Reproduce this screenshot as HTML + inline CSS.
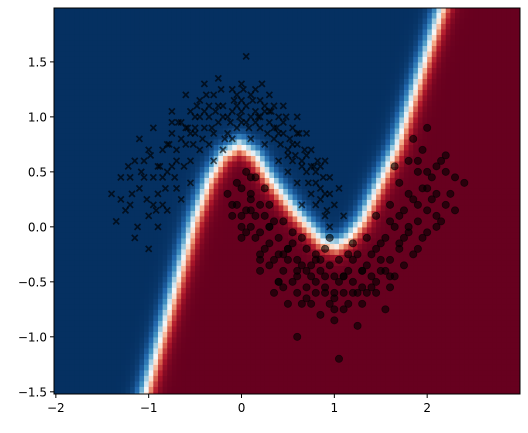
<!DOCTYPE html>
<html><head><meta charset="utf-8"><style>
body{margin:0;background:#fff}
svg text{font-family:"DejaVu Sans","Liberation Sans",sans-serif;font-size:12px;fill:#000}
</style></head><body>
<svg id="chart" width="528" height="428" xmlns="http://www.w3.org/2000/svg">
<defs><clipPath id="clip"><rect x="54" y="8" width="466" height="386"/></clipPath></defs>
<g id="heat" clip-path="url(#clip)"></g>
<g id="pts" clip-path="url(#clip)"></g>
<rect x="54" y="8" width="466" height="386" fill="none" stroke="#000" stroke-width="1"/>
<g id="axes"></g>
</svg>
<script>
const boundaryX=[-1.1,-0.61,-0.51,-0.35,-0.2,-0.02,0.15,0.3,0.59,0.87,1.02,1.15,1.3,1.67,2.2];
const boundaryY=[-1.7,-0.24,0.06,0.43,0.65,0.75,0.65,0.45,0.13,-0.13,-0.17,-0.1,0.06,0.73,2.1];
const xTicks=[-2,-1,0,1,2];
const yTicks=[-1.5,-1.0,-0.5,0.0,0.5,1.0,1.5];
const upperX=[-1.2,-1.1,-1.0,-0.95,-1.05,-0.9,-0.85,-0.8,-0.75,-0.7,-0.65,-0.6,-0.55,-0.5,-0.45,-0.4,-0.35,-0.3,-0.25,-0.2,-0.15,-0.1,-0.05,0.0,0.05,0.1,0.15,0.2,0.25,0.3,0.35,0.4,0.45,0.5,0.55,0.6,0.65,0.7,0.75,0.8,0.85,0.9,0.95,1.0,0.9,0.8,-1.3,-1.25,-1.15,-1.0,-0.9,-0.85,-0.7,-0.65,-0.75,-0.55,-0.45,-0.35,-0.25,0.0,0.05,0.3,0.45,0.6,0.7,0.75,0.6,0.5,0.4,-0.1,0.1,-1.1,-0.6,-0.4,0.2,-0.95,-1.4,-1.2,-0.8,-1.0,-0.5,0.35,0.55,0.85,1.05,-0.3,-0.2,0.25,0.65,0.9,-0.75,-0.55,0.0,-0.05,0.15,0.95,1.1,
-1.35,-1.3,-1.22,-1.18,-1.12,-1.08,-1.02,-0.98,-0.92,-0.88,-0.82,-0.78,-0.72,-0.68,-0.62,-0.58,-0.52,-0.48,-0.42,-0.38,-0.32,-0.28,-0.22,-0.18,-0.12,-0.08,-0.02,0.02,0.08,0.12,0.18,0.22,0.28,0.32,0.38,0.42,0.48,0.52,0.58,0.62,0.68,0.72,0.78,0.82,0.88,0.92,
-1.15,-1.05,-0.95,-0.85,-0.75,-0.65,-0.55,-0.45,-0.35,-0.25,-0.15,-0.05,0.05,0.15,0.25,0.35,0.45,0.55,0.65,0.75,0.85,0.95,
-0.9,-0.7,-0.5,-0.3,-0.1,0.1,0.3,0.5,0.7,-0.8,-0.6,-0.4,-0.2,0.0,0.2,0.4,0.6,0.8];
const upperY=[0.2,0.35,0.1,0.45,0.6,0.3,0.7,0.5,0.85,0.6,0.95,0.75,1.05,0.85,1.15,0.9,1.0,1.2,0.95,1.1,0.85,1.05,1.2,0.95,1.1,1.0,1.25,0.9,1.05,0.95,0.8,1.0,0.85,0.7,0.9,0.75,0.6,0.5,0.7,0.4,0.55,0.3,0.45,0.2,0.1,0.2,0.45,0.15,-0.1,-0.2,0.0,0.2,0.35,0.25,1.05,0.6,0.7,0.75,1.35,1.3,1.55,1.2,1.1,1.0,0.85,0.3,0.4,0.5,0.6,0.8,0.8,0.8,1.2,1.3,1.15,0.9,0.3,0.45,0.15,0.7,1.0,1.1,0.6,0.35,0.35,0.6,0.7,0.75,0.2,0.6,0.95,0.4,1.05,0.9,0.95,0.0,0.1,
0.05,0.25,0.55,0.3,0.0,0.5,0.25,0.65,0.15,0.55,0.35,0.75,0.45,0.95,0.55,0.9,0.75,1.1,0.8,1.2,0.9,1.05,1.25,0.8,0.95,1.15,1.0,1.25,0.9,1.15,1.0,1.3,0.85,1.05,0.9,0.75,1.0,0.8,0.65,0.85,0.7,0.4,0.55,0.6,0.45,0.15,
0.6,0.45,0.2,0.45,0.55,0.8,0.85,1.0,1.1,1.1,1.0,1.1,0.95,1.05,1.1,0.9,0.95,0.75,0.55,0.55,0.25,0.3,
0.55,0.7,0.9,0.85,1.25,1.2,1.05,0.65,0.65,0.75,0.9,1.05,1.0,1.15,1.0,0.85,0.85,0.5];
const lowerX=[0.0,0.05,-0.05,0.1,0.1,0.15,0.2,0.25,0.3,0.35,0.4,0.45,0.5,0.55,0.6,0.65,0.7,0.75,0.8,0.85,0.9,0.95,1.0,1.05,1.1,1.15,1.2,1.25,1.3,1.35,1.4,1.45,1.5,1.55,1.6,1.65,1.7,1.75,1.8,1.85,1.9,1.95,2.0,2.05,1.9,1.8,1.95,2.1,2.2,2.3,2.4,2.15,1.7,1.6,1.45,1.35,1.2,0.9,0.8,0.6,0.5,0.4,0.3,0.2,0.1,0.0,-0.1,-0.15,0.05,0.15,0.25,0.3,0.45,0.55,0.7,0.85,1.0,1.1,1.3,1.45,1.6,1.75,1.9,2.0,2.1,1.0,0.75,0.65,0.35,0.2,0.6,1.05,1.25,1.55,1.85,2.0,1.65,0.95,1.15,0.45,
-0.1,-0.05,0.0,0.05,0.1,0.15,0.2,0.25,0.3,0.35,0.4,0.45,0.5,0.55,0.6,0.65,0.7,0.75,0.8,0.85,0.9,0.95,1.0,1.05,1.1,1.15,1.2,1.25,1.3,1.35,1.4,1.45,1.5,1.55,1.6,1.65,1.7,1.75,1.8,1.85,1.9,1.95,2.0,2.05,2.1,2.15,2.2,2.25,
0.0,0.1,0.2,0.3,0.4,0.5,0.6,0.7,0.8,0.9,1.0,1.1,1.2,1.3,1.4,1.5,1.6,1.7,1.8,1.9,2.0,2.1,2.2,2.3];
const lowerY=[0.35,0.15,0.2,0.3,0.0,-0.1,0.2,-0.2,0.0,-0.3,-0.1,-0.4,-0.2,-0.5,-0.3,-0.1,-0.55,-0.35,-0.6,-0.4,-0.2,-0.7,-0.45,-0.3,-0.6,-0.4,-0.5,-0.25,-0.55,-0.35,-0.45,-0.2,-0.4,-0.1,-0.3,0.0,-0.2,0.15,-0.05,0.25,0.05,0.35,0.15,0.45,0.5,0.6,0.7,0.3,0.2,0.45,0.4,0.6,0.4,0.2,0.1,-0.1,-0.15,-0.45,-0.25,-0.6,-0.7,-0.5,-0.35,-0.05,0.15,0.0,0.1,0.3,0.5,0.45,0.35,0.2,0.05,-0.05,-0.2,-0.8,-0.85,-0.75,-0.7,-0.6,-0.55,-0.35,-0.2,-0.05,0.0,-0.6,-0.45,-0.7,-0.6,-0.4,-1.0,-1.2,-0.9,-0.75,0.8,0.9,0.55,-0.1,-0.25,-0.25,
0.2,0.4,0.1,-0.05,0.45,0.1,-0.25,0.1,-0.15,0.05,-0.25,-0.55,-0.3,-0.15,-0.45,-0.35,-0.4,-0.7,-0.5,-0.3,-0.6,-0.35,-0.65,-0.5,-0.45,-0.7,-0.3,-0.6,-0.4,-0.6,-0.25,-0.5,-0.15,-0.4,0.05,-0.45,0.1,-0.1,0.3,-0.25,0.6,-0.1,0.5,0.25,0.55,0.05,0.5,0.3,
-0.1,0.25,-0.3,0.0,-0.5,-0.2,-0.4,-0.65,-0.3,-0.55,-0.75,-0.45,-0.6,-0.4,-0.55,-0.3,-0.45,-0.15,0.0,0.2,0.35,0.1,0.65,0.15];

const X0=-2.02,X1=3.0,Y0=-1.52,Y1=1.99,PL=54,PR=520,PT=8,PB=394;
const sx=v=>PL+(v-X0)/(X1-X0)*(PR-PL);
const sy=v=>PB-(v-Y0)/(Y1-Y0)*(PB-PT);
const NS='http://www.w3.org/2000/svg';
const stops=['#67001f','#b2182b','#d6604d','#f4a582','#fddbc7','#f7f7f7','#d1e5f0','#92c5de','#4393c3','#2166ac','#053061'];
function hex(c){return [1,3,5].map(i=>parseInt(c.substr(i,2),16));}
function cmap(p){const t=Math.max(0,Math.min(1,p))*10,i=Math.min(9,Math.floor(t)),f=t-i;const a=hex(stops[i]),b=hex(stops[i+1]);return 'rgb('+a.map((v,k)=>Math.round(v+(b[k]-v)*f)).join(',')+')';}
function sdist(px,py){let best=1e9,sgn=1;for(let i=0;i<boundaryX.length-1;i++){const ax=boundaryX[i],ay=boundaryY[i],bx=boundaryX[i+1],by=boundaryY[i+1];const dx=bx-ax,dy=by-ay;let t=((px-ax)*dx+(py-ay)*dy)/(dx*dx+dy*dy);t=Math.max(0,Math.min(1,t));const qx=ax+t*dx-px,qy=ay+t*dy-py;const d=Math.hypot(qx,qy);if(d<best){best=d;sgn=(dx*(py-ay)-dy*(px-ax))>0?1:-1;}}return sgn*best;}
const heat=document.getElementById('heat');
const step=0.05;
for(let gx=-2.05;gx<3.0;gx+=step){for(let gy=-1.55;gy<2.0;gy+=step){
 const cx=gx+step/2,cy=gy+step/2;const d=sdist(cx,cy);const p=1/(1+Math.exp(-d/0.045));
 const r=document.createElementNS(NS,'rect');
 r.setAttribute('x',sx(gx).toFixed(2));r.setAttribute('y',sy(gy+step).toFixed(2));
 r.setAttribute('width',(sx(gx+step)-sx(gx)+0.6).toFixed(2));r.setAttribute('height',(sy(gy)-sy(gy+step)+0.6).toFixed(2));
 r.setAttribute('fill',cmap(p));
 
 
 heat.appendChild(r);}}
const pts=document.getElementById('pts');
for(let i=0;i<lowerX.length;i++){const c=document.createElementNS(NS,'circle');c.setAttribute('cx',sx(lowerX[i]));c.setAttribute('cy',sy(lowerY[i]));c.setAttribute('r',3.6);c.setAttribute('fill','rgba(0,0,0,0.6)');c.setAttribute('stroke','rgba(0,0,0,0.6)');c.setAttribute('stroke-width','0.8');


pts.appendChild(c);}
for(let i=0;i<upperX.length;i++){const x=sx(upperX[i]),y=sy(upperY[i]);const p=document.createElementNS(NS,'path');p.setAttribute('d',`M${x-3} ${y-3}L${x+3} ${y+3}M${x-3} ${y+3}L${x+3} ${y-3}`);p.setAttribute('stroke','rgba(0,0,0,0.65)');p.setAttribute('stroke-width','1.7');


pts.appendChild(p);}
const axes=document.getElementById('axes');
xTicks.forEach(v=>{const x=sx(v);const l=document.createElementNS(NS,'line');l.setAttribute('x1',x);l.setAttribute('x2',x);l.setAttribute('y1',PB);l.setAttribute('y2',PB+4);l.setAttribute('stroke','#000');


axes.appendChild(l);const t=document.createElementNS(NS,'text');t.setAttribute('x',x);t.setAttribute('y',PB+18);t.setAttribute('text-anchor','middle');t.textContent=(v<0?'\u2212':'')+Math.abs(v);


axes.appendChild(t);});
yTicks.forEach(v=>{const y=sy(v);const l=document.createElementNS(NS,'line');l.setAttribute('x1',PL-4);l.setAttribute('x2',PL);l.setAttribute('y1',y);l.setAttribute('y2',y);l.setAttribute('stroke','#000');


axes.appendChild(l);const t=document.createElementNS(NS,'text');t.setAttribute('x',PL-7);t.setAttribute('y',y+4.5);t.setAttribute('text-anchor','end');t.textContent=(v<0?'\u2212':'')+Math.abs(v).toFixed(1);


axes.appendChild(t);});
</script>
</body></html>
